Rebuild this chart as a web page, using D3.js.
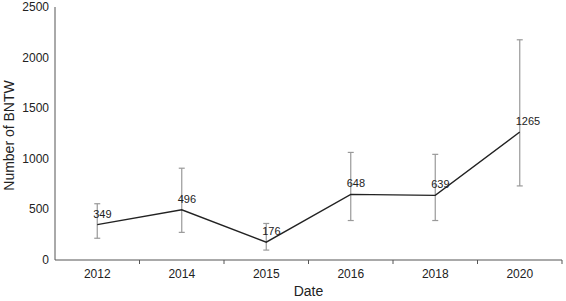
<!DOCTYPE html>
<html>
<head>
<meta charset="utf-8">
<script src="https://cdn.jsdelivr.net/npm/d3@7"></script>
<style>
  body { margin: 0; background: #fff; }
  text { font-family: "Liberation Sans", Arial, sans-serif; }
</style>
</head>
<body>
<div id="chart"></div>
<script>
const years = ["2012", "2014", "2015", "2016", "2018", "2020"];
const counts = [349, 496, 176, 648, 639, 1265];
const lowerBounds = [215, 273, 98, 390, 390, 732];
const upperBounds = [556, 907, 361, 1063, 1044, 2176];
const yTicks = [0, 500, 1000, 1500, 2000, 2500];

const width = 566, height = 301;
const margin = { top: 7, right: 4, bottom: 41, left: 55 };

const svg = d3.select("#chart").append("svg")
  .attr("width", width)
  .attr("height", height);

const x = d3.scaleBand()
  .domain(years)
  .range([margin.left, width - margin.right]);

const y = d3.scaleLinear()
  .domain([0, 2500])
  .range([height - margin.bottom, margin.top]);

const rows = years.map((yr, i) => ({
  year: yr, value: counts[i], lo: lowerBounds[i], hi: upperBounds[i]
}));

const cx = d => x(d.year) + x.bandwidth() / 2;

// x axis: line plus ticks at the band edges
const xAxisY = y(0);
svg.append("line")
  .attr("x1", margin.left).attr("x2", width - margin.right)
  .attr("y1", xAxisY).attr("y2", xAxisY)
  .attr("stroke", "#555").attr("stroke-width", 1);

const edges = years.map(yr => x(yr)).concat([x(years[years.length - 1]) + x.bandwidth()]);
svg.selectAll(".xtick").data(edges.slice(1)).enter().append("line")
  .attr("x1", d => d).attr("x2", d => d)
  .attr("y1", xAxisY).attr("y2", xAxisY + 4)
  .attr("stroke", "#555");

svg.selectAll(".xlabel").data(years).enter().append("text")
  .attr("x", d => x(d) + x.bandwidth() / 2)
  .attr("y", xAxisY + 18)
  .attr("text-anchor", "middle")
  .attr("font-size", 12)
  .attr("fill", "#222")
  .text(d => d);

// y axis
svg.append("line")
  .attr("x1", margin.left).attr("x2", margin.left)
  .attr("y1", y(2500)).attr("y2", xAxisY)
  .attr("stroke", "#555");

svg.selectAll(".ylabel").data(yTicks).enter().append("text")
  .attr("x", margin.left - 6)
  .attr("y", d => y(d) + 4)
  .attr("text-anchor", "end")
  .attr("font-size", 12)
  .attr("fill", "#222")
  .text(d => d);

// axis titles
svg.append("text")
  .attr("x", (margin.left + width - margin.right) / 2)
  .attr("y", height - 5)
  .attr("text-anchor", "middle")
  .attr("font-size", 14)
  .attr("fill", "#222")
  .text("Date");

svg.append("text")
  .attr("transform", `translate(14, ${(y(0) + y(2500)) / 2 + 2}) rotate(-90)`)
  .attr("text-anchor", "middle")
  .attr("font-size", 14)
  .attr("fill", "#222")
  .text("Number of BNTW");

// error bars
const err = svg.append("g").attr("stroke", "#999").attr("stroke-width", 1.2);
err.selectAll(".ebar").data(rows).enter().append("line")
  .attr("x1", cx).attr("x2", cx)
  .attr("y1", d => y(d.lo)).attr("y2", d => y(d.hi));
err.selectAll(".ecapTop").data(rows).enter().append("line")
  .attr("x1", d => cx(d) - 3).attr("x2", d => cx(d) + 3)
  .attr("y1", d => y(d.hi)).attr("y2", d => y(d.hi));
err.selectAll(".ecapBot").data(rows).enter().append("line")
  .attr("x1", d => cx(d) - 3).attr("x2", d => cx(d) + 3)
  .attr("y1", d => y(d.lo)).attr("y2", d => y(d.lo));

// main line
const line = d3.line().x(cx).y(d => y(d.value));
svg.append("path")
  .datum(rows)
  .attr("d", line)
  .attr("fill", "none")
  .attr("stroke", "#222")
  .attr("stroke-width", 1.4);

// value labels
svg.selectAll(".vlabel").data(rows).enter().append("text")
  .attr("x", d => cx(d) - 4)
  .attr("y", d => y(d.value) - 7)
  .attr("font-size", 11)
  .attr("fill", "#222")
  .text(d => d.value);
</script>
</body>
</html>
